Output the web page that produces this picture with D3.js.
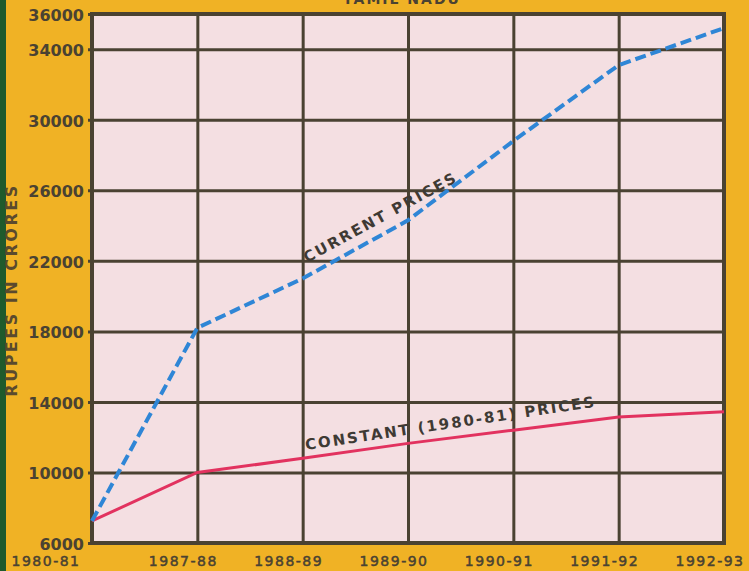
<!DOCTYPE html>
<html>
<head>
<meta charset="utf-8">
<script src="https://cdn.jsdelivr.net/npm/d3@7"></script>
<style>
  body { margin: 0; background: #f0b225; }
  svg { display: block; }
</style>
</head>
<body>
<svg id="chart" width="749" height="571"></svg>
<script>
  // values (Rs crores)
  const years = ["1980-81", "1987-88", "1988-89", "1989-90", "1990-91", "1991-92", "1992-93"]
  const currentPrices  = [7250, 18200, 21000, 24300, 28800, 33100, 35200]
  const constantPrices = [7250, 10000, 10800, 11650, 12400, 13150, 13450]
  const yTickValues = [6000, 10000, 14000, 18000, 22000, 26000, 30000, 34000, 36000]

  const width = 749, height = 571
  const margin = { top: 14, right: 25, bottom: 28, left: 92 }

  const svg = d3.select("#chart")

  // background + green strip at the left edge of the photo
  svg.append("rect").attr("width", width).attr("height", height).attr("fill", "#f0b225")
  svg.append("rect").attr("width", 6).attr("height", height).attr("fill", "#1f5a2c")

  let innerWidth = width - margin.left - margin.right
  let innerHeight = height - margin.top - margin.bottom

  let xScale = d3.scalePoint().domain(years).range([0, innerWidth])
  let yScale = d3.scaleLinear().domain([6000, 36000]).range([innerHeight, 0])

  const g = svg.append("g").attr("transform", `translate(${margin.left}, ${margin.top})`)

  g.append("rect").attr("width", innerWidth).attr("height", innerHeight).attr("fill", "#f4dfe2")

  const ink = "#4a4232"

  // horizontal grid + y labels
  let yAxis = d3.axisLeft(yScale).tickValues(yTickValues).tickFormat(d3.format("d"))
    .tickSize(-innerWidth - 4).tickPadding(4)
  g.append("g").attr("class", "yAxis").attr("transform", "translate(-4,0)")
    .call(yAxis)
    .call(a => a.select(".domain").remove())
    .call(a => a.selectAll(".tick line").attr("stroke", ink).attr("stroke-width", 3))
    .call(a => a.selectAll(".tick text")
      .attr("fill", ink).style("font-family", "DejaVu Sans").style("font-weight", "bold")
      .style("font-size", "16px").attr("dy", "0.4em"))

  // vertical grid + x labels
  let xAxis = d3.axisBottom(xScale).tickSize(-innerHeight).tickPadding(10)
  g.append("g").attr("class", "xAxis").attr("transform", `translate(0, ${innerHeight})`)
    .call(xAxis)
    .call(a => a.select(".domain").remove())
    .call(a => a.selectAll(".tick line").attr("stroke", ink).attr("stroke-width", 3))
    .call(a => a.selectAll(".tick text")
      .attr("fill", ink).attr("stroke", ink).attr("stroke-width", 0.5)
      .style("font-family", "DejaVu Sans").style("font-size", "14px").style("letter-spacing", "1.5px")
      .attr("text-anchor", "end")
      .attr("x", (d, i) => i == 0 ? -12 : 20)
      .attr("dy", "0.9em"))

  // plot frame
  g.append("rect").attr("width", innerWidth).attr("height", innerHeight)
    .attr("fill", "none").attr("stroke", ink).attr("stroke-width", 4)

  const line = d3.line().x((d, i) => xScale(years[i])).y(d => yScale(d))

  g.append("path").datum(constantPrices)
    .attr("d", line).attr("fill", "none")
    .attr("stroke", "#e2325f").attr("stroke-width", 3)

  g.append("path").datum(currentPrices)
    .attr("d", line).attr("fill", "none")
    .attr("stroke", "#2f86d6").attr("stroke-width", 4)
    .attr("stroke-dasharray", "11,5")

  // labels written along the lines
  const labelStyle = s => s.attr("fill", "#3e3a34").style("font-family", "DejaVu Sans")
    .style("font-weight", "bold").style("font-size", "15px").style("letter-spacing", "2px")

  svg.append("text").text("CURRENT PRICES")
    .attr("transform", "translate(307,263) rotate(-28.5)")
    .call(labelStyle)

  svg.append("text").text("CONSTANT (1980-81) PRICES")
    .attr("transform", "translate(306,450) rotate(-8.5)")
    .call(labelStyle)

  // title, cut off by the top edge of the photo
  svg.append("text").text("TAMIL NADU")
    .attr("x", 402).attr("y", 4).attr("text-anchor", "middle")
    .attr("fill", ink).style("font-family", "DejaVu Sans").style("font-weight", "bold")
    .style("font-size", "14px").style("letter-spacing", "2px")

  // y axis title
  svg.append("text").text("RUPEES IN CRORES")
    .attr("transform", "translate(17,290) rotate(-90)").attr("text-anchor", "middle")
    .attr("fill", "#5a4a2e").style("font-family", "DejaVu Sans").style("font-weight", "bold")
    .style("font-size", "16px").style("letter-spacing", "2.5px")
</script>
</body>
</html>
